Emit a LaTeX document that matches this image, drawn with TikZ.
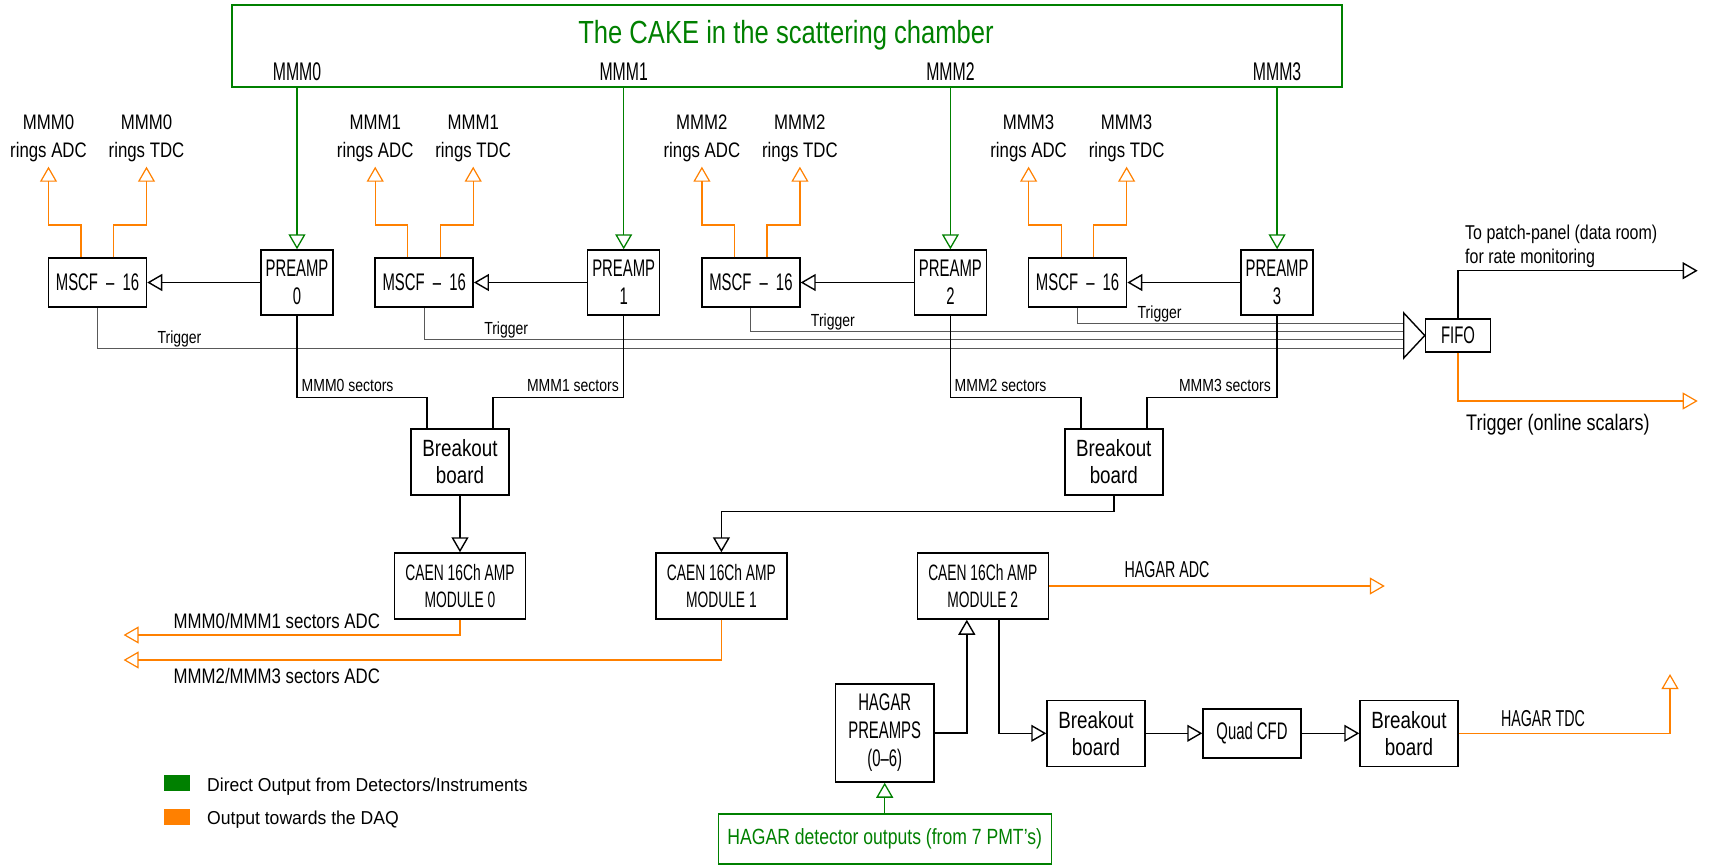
\documentclass[tikz,border=0pt]{standalone}
\usepackage{fontspec}
\setmainfont{Liberation Sans}[FakeStretch=0.8]
\newfontfamily\capfont{Liberation Sans}[FakeStretch=0.62]
\newfontfamily\legfont{Liberation Sans}[FakeStretch=0.94]
\usetikzlibrary{arrows.meta}
\definecolor{detgreen}{RGB}{0,128,0}
\definecolor{daqorange}{RGB}{255,128,0}
\tikzset{
    blk/.style={draw, line width=1.5pt, inner sep=0pt, align=center,
        font=\capfont\fontsize{24}{28}\selectfont},
    preamp/.style={blk, minimum width=72pt, minimum height=65pt},
    mscf/.style={blk, minimum width=98pt, minimum height=49pt},
    bob/.style={blk, font=\fontsize{23.5}{27}\selectfont, minimum width=98pt, minimum height=66pt},
    caen/.style={blk, font=\capfont\fontsize{22.3}{27}\selectfont, minimum width=131pt, minimum height=66pt},
    wire/.style={line width=1.4pt},
    sig/.style={wire, -{Triangle[open,length=15pt,width=17pt]}},
    daq/.style={sig, line width=1.2pt, daqorange},
    det/.style={sig, line width=1.3pt, detgreen},
    trig/.style={line width=1pt, black!65},
    lbl/.style={inner sep=0pt, font=\fontsize{17.5}{17.5}\selectfont},
}
\begin{document}
\begin{tikzpicture}[x=1pt,y=-1pt]
        \useasboundingbox (0,0) rectangle (1712,865);
        %画散射室
        \node[draw=detgreen, line width=1.3pt, minimum width=1110pt, minimum height=82pt, inner sep=0pt] (cake) at (787,46) {};
        \node[anchor=base, detgreen, font=\fontsize{32}{32}\selectfont] (title) at (786,43) {The CAKE in the scattering chamber};
        %画四路MMM
        \foreach \i [evaluate=\i as \x using 297+326.7*\i, evaluate=\i as \ty using 348-8.1*\i] in {0,1,2,3}
        {
            \node[anchor=base, font=\capfont\fontsize{25.5}{25.5}\selectfont] (mmm\i) at (\x,80) {MMM\i};
            \node[preamp] (pre\i) at (\x,282.5) {PREAMP\\\i};
            \node[mscf] (mscf\i) at (\x-199.5,282.5) {MSCF\, – \,16};
            \node[anchor=south, align=center, inner sep=5pt, font=\fontsize{21}{28}\selectfont] (adc\i) at (\x-248.5,166.7) {MMM\i\\rings ADC};
            \node[anchor=south, align=center, inner sep=5pt, font=\fontsize{21}{28}\selectfont] (tdc\i) at (\x-150.5,166.7) {MMM\i\\rings TDC};
            \node[lbl, anchor=base] (trg\i) at (\x-117.5,\ty-5) {Trigger};
            \draw[det] (cake.south -| pre\i) -- (pre\i.north);
            \draw[sig] (pre\i.west) -- (mscf\i.east);
            \draw[daq] ([xshift=-16.5pt]mscf\i.north) -- ++(0,-32.3) -| (adc\i.south);
            \draw[daq] ([xshift=16pt]mscf\i.north) -- ++(0,-32.3) -| (tdc\i.south);
        };
        %画FIFO
        \node[blk, minimum width=65pt, minimum height=33pt] (fifo) at (1458,335.5) {FIFO};
        \coordinate (tri) at ([xshift=-21pt]fifo.west);
        \foreach \i [evaluate=\i as \ty using 348-8.1*\i] in {0,1,2,3}
            \draw[trig] (mscf\i.south) |- (tri |- 0,\ty);
        \draw[wire, fill=white] (fifo.west) -- ([yshift=22.5pt]tri) -- ([yshift=-22.5pt]tri) -- cycle;
        \coordinate (patch) at (1697.7,270.7);
        \coordinate (scal) at (1697.7,401);
        \draw[sig] (fifo.north) |- (patch);
        \draw[daq] (fifo.south) |- (scal);
        \node[anchor=base west, align=left, inner sep=0pt, font=\fontsize{20}{24}\selectfont] (patchtxt) at (1465,263) {To patch-panel (data room)\\for rate monitoring};
        \node[anchor=base west, inner sep=0pt, font=\fontsize{22.5}{22.5}\selectfont] (scaltxt) at (1466,430) {Trigger (online scalars)};
        %画扇区信号
        \node[bob] (bob0) at (460,462) {Breakout\\board};
        \node[bob] (bob1) at (1113.8,462) {Breakout\\board};
        \draw[wire] (pre0.south) -- ++(0,81.7) -| ([xshift=-33pt]bob0.north);
        \draw[wire] (pre1.south) -- ++(0,81.7) -| ([xshift=33pt]bob0.north);
        \draw[wire] (pre2.south) -- ++(0,81.7) -| ([xshift=-33pt]bob1.north);
        \draw[wire] (pre3.south) -- ++(0,81.7) -| ([xshift=33pt]bob1.north);
        \node[lbl, anchor=base west] (sec0) at (301.5,391) {MMM0 sectors};
        \node[lbl, anchor=base east] (sec1) at (619,391) {MMM1 sectors};
        \node[lbl, anchor=base west] (sec2) at (954.5,391) {MMM2 sectors};
        \node[lbl, anchor=base east] (sec3) at (1271,391) {MMM3 sectors};
        %画CAEN放大器
        \node[caen] (caen0) at (460,586) {CAEN 16Ch AMP\\MODULE 0};
        \node[caen] (caen1) at (721.4,586) {CAEN 16Ch AMP\\MODULE 1};
        \node[caen] (caen2) at (982.8,586) {CAEN 16Ch AMP\\MODULE 2};
        \draw[sig] (bob0.south) -- (caen0.north);
        \draw[sig] (bob1.south) -- ++(0,16) -| (caen1.north);
        \coordinate (out0) at (123.6,635);
        \coordinate (out1) at (123.6,660);
        \draw[daq] (caen0.south) |- (out0);
        \draw[daq] (caen1.south) |- (out1);
        \node[anchor=base west, inner sep=0pt, font=\fontsize{21}{21}\selectfont] (adctxt0) at (173.5,628) {MMM0/MMM1 sectors ADC};
        \node[anchor=base west, inner sep=0pt, font=\fontsize{21}{21}\selectfont] (adctxt1) at (173.5,683) {MMM2/MMM3 sectors ADC};
        %画HAGAR
        \node[blk, minimum width=98.5pt, minimum height=98pt] (hpre) at (884.7,733) {HAGAR\\PREAMPS\\(0–6)};
        \node[draw=detgreen, line width=1.3pt, minimum width=333pt, minimum height=50pt, inner sep=0pt, detgreen, font=\fontsize{22}{22}\selectfont] (hdet) at (884.7,839) {HAGAR detector outputs (from 7 PMT's)};
        \node[bob] (bob2) at (1096,733.3) {Breakout\\board};
        \node[blk, minimum width=98pt, minimum height=49pt] (cfd) at (1252,733.3) {Quad CFD};
        \node[bob] (bob3) at (1409,733.3) {Breakout\\board};
        \draw[det] (hdet.north) -- (hpre.south);
        \draw[sig] (hpre.east) -| ([xshift=-16pt]caen2.south);
        \draw[sig] ([xshift=16pt]caen2.south) |- (bob2.west);
        \draw[sig] (bob2.east) -- (cfd.west);
        \draw[sig] (cfd.east) -- (bob3.west);
        \coordinate (hadc) at (1384.8,586);
        \coordinate (htdc) at (1670,674);
        \draw[daq] (caen2.east) -- (hadc);
        \draw[daq] (bob3.east) -| (htdc);
        \node[anchor=base, inner sep=0pt, font=\capfont\fontsize{23}{23}\selectfont] (hadctxt) at (1167,577) {HAGAR ADC};
        \node[anchor=base, inner sep=0pt, font=\capfont\fontsize{23}{23}\selectfont] (htdctxt) at (1543,726) {HAGAR TDC};
        %画图例
        \node[fill=detgreen, minimum width=26pt, minimum height=16pt, inner sep=0pt] (leg0) at (176.5,783) {};
        \node[fill=daqorange, minimum width=26pt, minimum height=16pt, inner sep=0pt] (leg1) at (176.5,817) {};
        \node[anchor=base west, inner sep=0pt, font=\legfont\fontsize{18.7}{18.7}\selectfont] (legtxt0) at (207,791) {Direct Output from Detectors/Instruments};
        \node[anchor=base west, inner sep=0pt, font=\legfont\fontsize{18.7}{18.7}\selectfont] (legtxt1) at (207,824.5) {Output towards the DAQ};
\end{tikzpicture}
\end{document}
